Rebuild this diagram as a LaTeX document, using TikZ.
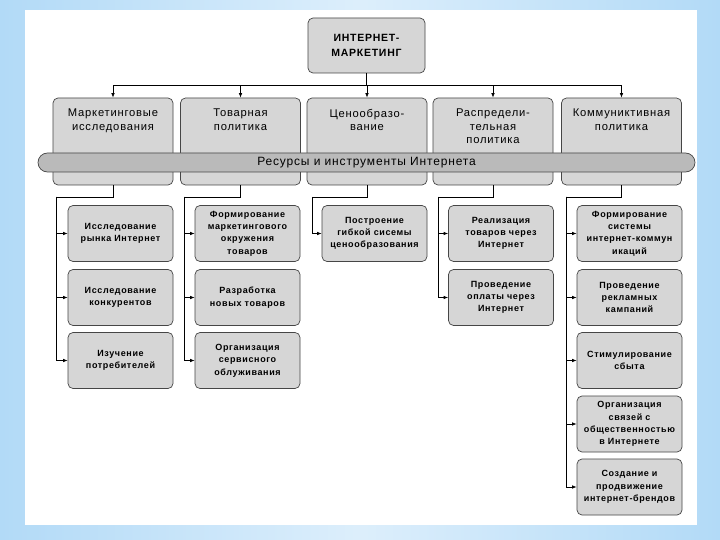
\documentclass[tikz,border=0pt]{standalone}
\usepackage{fontspec}
\setmainfont{Liberation Sans}
\newfontfamily\lsp[LetterSpace=7]{Liberation Sans}
\usetikzlibrary{arrows.meta}
\definecolor{bgblue}{RGB}{178,218,247}
\definecolor{boxgray}{RGB}{214,214,214}
\definecolor{bandgray}{RGB}{186,186,186}
\definecolor{edgegray}{RGB}{70,70,70}
\tikzset{
  box/.style={draw=edgegray, fill=boxgray, rounded corners=5pt, line width=0.7pt, inner sep=0pt},
  topbox/.style={box, minimum width=117, minimum height=55, align=center, font=\lsp\bfseries\fontsize{10.5}{15}\selectfont},
  lvtwo/.style={box, minimum width=120, minimum height=87},
  lvlab/.style={anchor=north, align=center, inner sep=0pt, font=\lsp\fontsize{11.2}{13.5}\selectfont},
  child/.style={box, minimum width=105, minimum height=56, align=center, text width=103, font=\lsp\bfseries\fontsize{9}{12.3}\selectfont},
  band/.style={draw=edgegray, fill=bandgray, rounded corners=9.5pt, line width=0.7pt, minimum width=657, minimum height=19, inner sep=0pt, font=\lsp\fontsize{12}{12}\selectfont},
  conn/.style={draw=black, line width=0.7pt},
  arr/.style={conn, -{Latex[length=4.5pt,width=3.5pt]}}
}
\begin{document}
\begin{tikzpicture}[x=1pt,y=-1pt]
\useasboundingbox (0,0) rectangle (720,540);
\shade[left color=bgblue, right color=bgblue, middle color=bgblue!45] (0,0) rectangle (720,540);
\fill[white] (25,10) rectangle (697,525);

% top node
\node[topbox] (T) at (366.5,45.5) {ИНТЕРНЕТ-\\МАРКЕТИНГ};

% level two boxes
\node[lvtwo] (L1) at (113,141.5) {};
\node[lvtwo] (L2) at (240.5,141.5) {};
\node[lvtwo] (L3) at (367,141.5) {};
\node[lvtwo] (L4) at (493,141.5) {};
\node[lvtwo] (L5) at (621.5,141.5) {};
\node[lvlab] (L1t) at ([yshift=-11pt]L1.north) {Маркетинговые\\исследования};
\node[lvlab] (L2t) at ([yshift=-11pt]L2.north) {Товарная\\политика};
\node[lvlab] (L3t) at ([yshift=-11pt]L3.north) {Ценообразо-\\вание};
\node[lvlab] (L4t) at ([yshift=-11pt]L4.north) {Распредели-\\тельная\\политика};
\node[lvlab] (L5t) at ([yshift=-11pt]L5.north) {Коммуниктивная\\политика};

% band
\node[band] (B) at (366.5,162.5) {Ресурсы и инструменты Интернета};

% top connectors
\coordinate (bus) at (366.5,85);
\draw[conn] (T.south) -- (bus);
\foreach \n in {L1,L2,L3,L4,L5}{\draw[arr] (bus) -| (\n.north);}

% children column 1
\node[child] (C11) at (120.5,233.5) {Исследование\\рынка Интернет};
\node[child] (C12) at (120.5,297.5) {Исследование\\конкурентов};
\node[child] (C13) at (120.5,360.5) {Изучение\\потребителей};
% column 2
\node[child] (C21) at (247.5,233.5) {Формирование\\маркетингового\\окружения\\товаров};
\node[child] (C22) at (247.5,297.5) {Разработка\\новых товаров};
\node[child] (C23) at (247.5,360.5) {Организация\\сервисного\\облуживания};
% column 3
\node[child] (C31) at (374.5,233.5) {Построение\\гибкой сисемы\\ценообразования};
% column 4
\node[child] (C41) at (501,233.5) {Реализация\\товаров через\\Интернет};
\node[child] (C42) at (501,297.5) {Проведение\\оплаты через\\Интернет};
% column 5
\node[child] (C51) at (629.5,233.5) {Формирование\\системы\\интернет-коммун\\икаций};
\node[child] (C52) at (629.5,297.5) {Проведение\\рекламных\\кампаний};
\node[child] (C53) at (629.5,360.5) {Стимулирование\\сбыта};
\node[child] (C54) at (629.5,424) {Организация\\связей с\\общественностью\\в Интернете};
\node[child] (C55) at (629.5,487) {Создание и\\продвижение\\интернет-брендов};

% branch connectors
\coordinate (k1) at (56,197);
\coordinate (k2) at (184,197);
\coordinate (k3) at (312,197);
\coordinate (k4) at (438,197);
\coordinate (k5) at (566,197);
\draw[conn] (L1.south) |- (k1);
\draw[conn] (L2.south) |- (k2);
\draw[conn] (L3.south) |- (k3);
\draw[conn] (L4.south) |- (k4);
\draw[conn] (L5.south) |- (k5);
\foreach \c in {C11,C12,C13}{\draw[arr] (k1) |- (\c.west);}
\foreach \c in {C21,C22,C23}{\draw[arr] (k2) |- (\c.west);}
\draw[arr] (k3) |- (C31.west);
\foreach \c in {C41,C42}{\draw[arr] (k4) |- (\c.west);}
\foreach \c in {C51,C52,C53,C54,C55}{\draw[arr] (k5) |- (\c.west);}
\end{tikzpicture}
\end{document}
